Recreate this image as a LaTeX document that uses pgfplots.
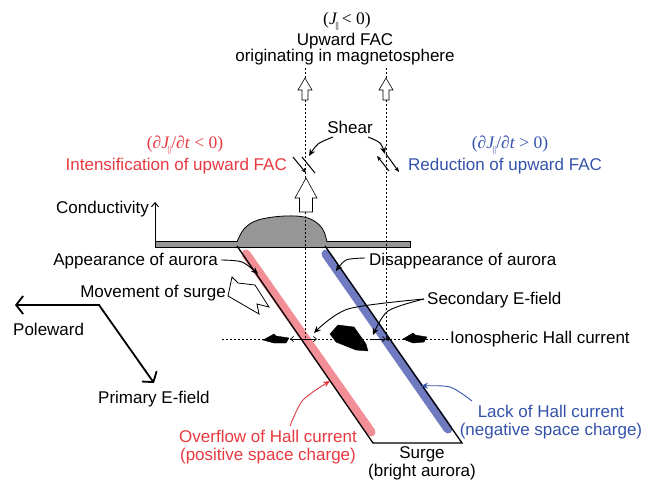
\documentclass[border=0pt]{standalone}
\usepackage{pgfplots}
\pgfplotsset{compat=1.18}
\usetikzlibrary{arrows.meta}
\usepackage{fontspec}
\setmainfont{Liberation Sans}
\newfontfamily\tm{Liberation Serif}
\definecolor{tred}{RGB}{232,56,64}
\definecolor{tblue}{RGB}{52,82,170}
\definecolor{spink}{RGB}{242,142,150}
\definecolor{sblue}{RGB}{112,122,192}
\definecolor{bumpgray}{RGB}{150,150,150}
\newcommand{\F}{\fontsize{17}{19}\selectfont}
\newcommand{\M}{\tm\fontsize{17.5}{19}\selectfont}
\newcommand{\Jp}{\textit{J}\kern-0.12em\raisebox{-0.5ex}{\fontsize{9}{9}\selectfont||}}
\tikzset{t/.style={font=\F, inner sep=0pt}}
\begin{document}
\F
\begin{tikzpicture}[font=\F]
\begin{axis}[
  scale only axis, width=660pt, height=482pt,
  xmin=0, xmax=660, ymin=0, ymax=482, y dir=reverse,
  hide axis, clip=false,
]
\addplot[draw=none] coordinates {(0,0) (660,482)};
% ---- conductivity baseline bar
\addplot[fill=bumpgray, draw=black, line width=0.6pt] coordinates {(155,241) (410,241) (410,247) (155,247)} -- cycle;
% bump
\addplot[fill=bumpgray, draw=black, line width=0.8pt, smooth, tension=0.6] coordinates {(237,242) (244,229) (258,220) (285,216) (308,218) (322,228) (327,242)};
\addplot[fill=bumpgray, draw=none] coordinates {(238,240) (326,240) (326,243) (238,243)} -- cycle;
% conductivity arrow
\addplot[line width=1pt, -{Straight Barb[length=4pt,width=7pt]}] coordinates {(155,243) (155,202)};
% ---- stripes
\addplot[spink, line width=9pt, line cap=round] coordinates {(246,254) (371,432)};
\addplot[sblue, line width=9pt, line cap=round] coordinates {(326,254) (448,429)};
% parallelogram edges
\addplot[black, line width=1.3pt] coordinates {(237,246) (373,443) (462,443) (325,246)};
% ---- dashed vertical lines
\addplot[black, line width=0.6pt, dash pattern=on 2pt off 2pt] coordinates {(305,68) (305,340)};
\addplot[black, line width=0.6pt, dash pattern=on 2pt off 2pt] coordinates {(386,68) (386,340)};
% horizontal hall current line
\addplot[black, line width=0.6pt, dash pattern=on 2pt off 2pt] coordinates {(222,339) (448,339)};
% small hollow arrows on top
\addplot[fill=white, draw=black, line width=0.6pt] coordinates {(305,78) (298,90) (302,90) (302,100) (308,100) (308,90) (312,90)} -- cycle;
\addplot[fill=white, draw=black, line width=0.6pt] coordinates {(386,78) (379,90) (383,90) (383,100) (389,100) (389,90) (393,90)} -- cycle;
% big hollow arrow
\addplot[fill=white, draw=black, line width=0.6pt] coordinates {(306,178) (295,198) (299.5,198) (299.5,212) (312.5,212) (312.5,198) (317,198)} -- cycle;
% shear slashes
\addplot[black, line width=1pt, -{Stealth[length=5pt,width=4pt]}] coordinates {(293,157) (306,173)};
\addplot[black, line width=1pt] coordinates {(302,157) (315,173)};
\addplot[black, line width=1pt, -{Stealth[length=5pt,width=4pt]}] coordinates {(389,171) (377,156)};
\addplot[black, line width=1pt, -{Stealth[length=5pt,width=4pt]}] coordinates {(386,154) (399,172)};
% shear curved arrows
\addplot[black, line width=1pt, smooth, -{Stealth[length=7pt,width=6pt]}] coordinates {(333,137) (318,144) (309,156)};
\addplot[black, line width=1pt, smooth, -{Stealth[length=7pt,width=6pt]}] coordinates {(368,137) (380,143) (385,154)};
% ---- hall current arrows
\addplot[fill=black, draw=black] coordinates {(263,340) (274,334) (276,336) (289,338) (286,343) (274,343)} -- cycle;
\addplot[fill=black, draw=black] coordinates {(403,339) (413,333) (415,335) (427,337) (424,342) (413,343)} -- cycle;
\addplot[fill=black, draw=black] coordinates {(330,334) (338,325) (354,327) (366,344) (368,351) (356,350) (336,342)} -- cycle;
\addplot[black, line width=0.7pt, {Straight Barb[length=3pt,width=5pt]}-{Straight Barb[length=3pt,width=5pt]}] coordinates {(290,339) (317,339)};
\addplot[black, line width=0.7pt, -{Straight Barb[length=3pt,width=5pt]}] coordinates {(370,339) (386,339)};
\addplot[black, only marks, mark=*, mark size=1.6pt] coordinates {(388,339)};
% secondary E-field arrows
\addplot[black, line width=0.9pt, smooth, -{Stealth[length=7pt,width=6pt]}] coordinates {(424,299) (348,309) (314,333)};
\addplot[black, line width=0.9pt, smooth, -{Stealth[length=7pt,width=6pt]}] coordinates {(424,299) (388,311) (373,335)};
% appearance / disappearance arrows
\addplot[black, line width=0.9pt, smooth, -{Stealth[length=7pt,width=6pt]}] coordinates {(221,260) (242,262) (258,274)};
\addplot[black, line width=0.9pt, smooth, -{Stealth[length=7pt,width=6pt]}] coordinates {(365,258) (346,260) (336,271)};
% movement of surge hollow arrow
\addplot[fill=white, draw=black, line width=0.8pt] coordinates {(228,296) (232,277) (238,283) (255,285) (269,307) (257,304) (259,314)} -- cycle;
% poleward / primary E-field
\addplot[black, line width=1.8pt, -{Straight Barb[length=7pt,width=18pt]}] coordinates {(100,305) (15,305)};
\addplot[black, line width=1.8pt, -{Straight Barb[length=7pt,width=18pt]}] coordinates {(99,305) (154,383)};
% red/blue arrows
\addplot[tred, line width=0.9pt, smooth, -{Stealth[length=7pt,width=6pt]}] coordinates {(290,426) (303,400) (330,381)};
\addplot[tblue, line width=0.9pt, smooth, -{Stealth[length=7pt,width=6pt]}] coordinates {(472,401) (450,387) (421,386)};
% ---- texts
\node[t, anchor=base] at (axis cs:347,24) {{\M(\Jp\,< 0)}};
\node[t, anchor=base] at (axis cs:345,45) {Upward FAC};
\node[t, anchor=base] at (axis cs:345,61) {originating in magnetosphere};
\node[t, anchor=base] at (axis cs:350,133) {Shear};
\node[t, anchor=base, text=tred] at (axis cs:185,148) {{\M(\textit{∂}\Jp/\textit{∂t} < 0)}};
\node[t, anchor=base east, text=tred] at (axis cs:287,170) {Intensification of upward FAC};
\node[t, anchor=base, text=tblue] at (axis cs:510,148) {{\M(\textit{∂}\Jp/\textit{∂t} > 0)}};
\node[t, anchor=base west, text=tblue] at (axis cs:408,170) {Reduction of upward FAC};
\node[t, anchor=base east] at (axis cs:149,213) {Conductivity};
\node[t, anchor=base east] at (axis cs:218,265) {Appearance of aurora};
\node[t, anchor=base west] at (axis cs:369,265) {Disappearance of aurora};
\node[t, anchor=base east] at (axis cs:226,297) {Movement of surge};
\node[t, anchor=base west] at (axis cs:427,304) {Secondary E-field};
\node[t, anchor=base west] at (axis cs:450,343) {Ionospheric Hall current};
\node[t, anchor=base west] at (axis cs:13,335) {Poleward};
\node[t, anchor=base west] at (axis cs:98,403) {Primary E-field};
\node[t, anchor=base, text=tred] at (axis cs:268,442) {Overflow of Hall current};
\node[t, anchor=base, text=tred] at (axis cs:268,460) {(positive space charge)};
\node[t, anchor=base, text=tblue] at (axis cs:551,417) {Lack of Hall current};
\node[t, anchor=base, text=tblue] at (axis cs:551,435) {(negative space charge)};
\node[t, anchor=base] at (axis cs:422,458) {Surge};
\node[t, anchor=base] at (axis cs:422,476) {(bright aurora)};
\end{axis}
\end{tikzpicture}
\end{document}
